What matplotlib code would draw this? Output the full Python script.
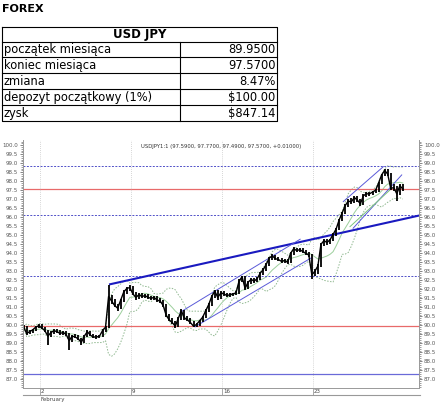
import numpy as np
import pandas as pd
import matplotlib
matplotlib.use('Agg')
import matplotlib.pyplot as plt
from matplotlib.lines import Line2D
from matplotlib.ticker import MultipleLocator, FormatStrFormatter

# --- table ---
table_title = 'USD JPY'
row_labels = ['początek miesiąca', 'koniec miesiąca', 'zmiana',
              'depozyt początkowy (1%)', 'zysk']
row_values = ['89.9500', '97.5700', '8.47%', '$100.00', '$847.14']

# --- chart ---
chart_title = 'USDJPY1:1 (97.5900, 97.7700, 97.4900, 97.5700, +0.01000)'
week_labels = ['2', '9', '16', '23']
week_days = [0, 5, 10, 15]          # trading days counted from Feb 2
month_label = 'February'

# 4-hour bars, first one at -0.9 trading days
closes = [89.90, 89.55, 89.65, 89.75, 89.90, 89.98,
          89.85, 89.70, 89.40, 89.60, 89.70, 89.65,
          89.55, 89.60, 89.50, 89.15, 89.40, 89.35,
          89.25, 89.05, 89.40, 89.65, 89.45, 89.35,
          89.35, 89.40, 89.70, 89.90, 91.60, 91.35,
          91.10, 90.95, 91.40, 91.85, 92.05, 92.10,
          91.75, 91.55, 91.70, 91.60, 91.65, 91.55,
          91.50, 91.55, 91.40, 91.35, 91.10, 90.55,
          90.30, 90.15, 89.95, 90.40, 90.80, 90.40,
          90.30, 90.15, 89.95, 90.05, 90.25, 90.45,
          90.80, 91.15, 91.60, 91.90, 91.55, 91.80,
          91.75, 91.65, 91.70, 91.75, 91.80, 92.45,
          92.70, 92.05, 92.40, 92.55, 92.45, 92.60,
          92.90, 93.10, 93.40, 93.75, 93.85, 93.70,
          93.65, 93.55, 93.60, 93.50, 94.00, 94.25,
          94.15, 94.20, 94.10, 94.00, 93.90, 92.80,
          93.00, 93.30, 94.50, 94.70, 94.60, 94.75,
          95.05, 95.35, 95.85, 96.25, 96.65, 96.90,
          96.85, 97.10, 96.95, 96.75, 97.20, 97.30,
          97.30, 97.40, 97.50, 97.90, 98.35, 98.60,
          98.40, 97.60, 97.65, 97.30, 97.75, 97.57]
highs = [90.02, 89.95, 89.72, 89.82, 89.97, 90.05,
         90.05, 89.92, 89.75, 89.68, 89.78, 89.80,
         89.72, 89.70, 89.68, 89.58, 89.48, 89.50,
         89.45, 89.32, 89.48, 89.72, 89.70, 89.52,
         89.45, 89.48, 89.78, 89.98, 92.25, 91.70,
         91.45, 91.20, 91.48, 91.95, 92.15, 92.25,
         92.18, 91.85, 91.78, 91.80, 91.75, 91.72,
         91.65, 91.65, 91.62, 91.50, 91.42, 91.18,
         90.65, 90.40, 90.25, 90.48, 90.88, 90.85,
         90.50, 90.38, 90.22, 90.12, 90.32, 90.52,
         90.88, 91.22, 91.68, 91.98, 91.95, 91.88,
         91.88, 91.82, 91.78, 91.82, 91.88, 92.55,
         92.75, 92.75, 92.48, 92.62, 92.62, 92.68,
         92.98, 93.18, 93.48, 93.82, 93.95, 93.92,
         93.78, 93.72, 93.68, 93.68, 94.08, 94.35,
         94.32, 94.28, 94.28, 94.18, 94.08, 93.98,
         93.10, 93.38, 94.58, 94.80, 94.78, 94.82,
         95.12, 95.42, 95.92, 96.32, 96.72, 97.00,
         97.05, 97.18, 97.20, 97.02, 97.28, 97.40,
         97.40, 97.48, 97.58, 97.98, 98.42, 98.70,
         98.68, 98.48, 97.82, 97.75, 97.82, 97.85]
lows = [89.82, 89.48, 89.50, 89.60, 89.70, 89.85,
        89.80, 89.62, 88.90, 89.35, 89.52, 89.58,
        89.48, 89.48, 89.42, 88.62, 89.08, 89.28,
        89.18, 88.88, 89.00, 89.35, 89.40, 89.28,
        89.25, 89.28, 89.35, 89.65, 89.85, 91.20,
        91.00, 90.82, 90.88, 91.32, 91.75, 91.90,
        91.68, 91.40, 91.48, 91.52, 91.50, 91.45,
        91.40, 91.42, 91.32, 91.22, 91.00, 90.45,
        90.22, 90.05, 89.85, 89.90, 90.32, 90.32,
        90.22, 90.08, 89.88, 89.88, 89.98, 90.18,
        90.38, 90.72, 91.08, 91.52, 91.40, 91.48,
        91.65, 91.58, 91.58, 91.62, 91.68, 91.72,
        92.38, 91.98, 92.00, 92.32, 92.35, 92.38,
        92.52, 92.82, 93.02, 93.32, 93.65, 93.60,
        93.58, 93.48, 93.48, 93.42, 93.45, 93.92,
        94.08, 94.08, 94.02, 93.92, 93.82, 92.55,
        92.72, 92.85, 93.22, 94.42, 94.48, 94.50,
        94.68, 94.98, 95.28, 95.78, 96.18, 96.58,
        96.72, 96.78, 96.85, 96.65, 96.68, 97.12,
        97.20, 97.22, 97.32, 97.42, 97.82, 98.28,
        98.30, 97.50, 97.45, 96.88, 97.22, 97.48]

red_levels = [97.57, 89.95]
dotted_levels = [98.85, 96.10, 92.75]
solid_level = 87.30

trend_t = [3.85, 20.8]
trend_p = [92.28, 96.09]
chan1_up_t, chan1_up_p = [7.69, 14.29], [90.72, 94.78]
chan1_lo_t, chan1_lo_p = [8.52, 14.89], [89.92, 93.74]
chan2_up_t, chan2_up_p = [16.66, 18.86], [96.87, 98.81]
chan2_mid_t, chan2_mid_p = [17.03, 19.23], [95.48, 97.52]
chan2_lo_t, chan2_lo_p = [17.20, 19.87], [95.39, 98.35]

W, H = 446, 404
fig = plt.figure(figsize=(W / 100, H / 100), dpi=100)
fig.patch.set_facecolor('white')

# overlay in pixel coords for header + table
ov = fig.add_axes([0, 0, 1, 1])
ov.set_xlim(0, W)
ov.set_ylim(H, 0)
ov.axis('off')

ov.text(2, 8.5, 'FOREX', fontsize=8, fontweight='bold', va='center', ha='left')

tx0, tx1, tmid = 2, 277, 180
ty = [26.5, 41.5] + [41.5 + 15.9 * (k + 1) for k in range(len(row_labels))]
ov.plot([tx0, tx1, tx1, tx0, tx0], [ty[0], ty[0], ty[-1], ty[-1], ty[0]], color='black', lw=0.8)
for y in ty[1:-1]:
    ov.plot([tx0, tx1], [y, y], color='black', lw=0.8)
ov.plot([tmid, tmid], [ty[1], ty[-1]], color='black', lw=0.8)
ov.text((tx0 + tx1) / 2, (ty[0] + ty[1]) / 2 + 0.5, table_title, fontsize=8.5,
        fontweight='bold', ha='center', va='center')
for k, (lab, val) in enumerate(zip(row_labels, row_values)):
    yc = (ty[k + 1] + ty[k + 2]) / 2 + 0.5
    ov.text(tx0 + 1.5, yc, lab, fontsize=8.3, ha='left', va='center')
    ov.text(tx1 - 1.5, yc, val, fontsize=8.3, ha='right', va='center')

# chart axes
ax = fig.add_axes([23 / W, 1 - 388 / H, (419 - 23) / W, (388 - 140) / H])
t = -0.9 + np.arange(len(closes)) / 6.0

# bollinger bands
s = pd.Series(closes)
mid = s.rolling(8, min_periods=1).mean()
sd = s.rolling(8, min_periods=1).std(ddof=0)
ax.plot(t, mid + 2 * sd, color='#8fb88f', lw=0.7, ls=(0, (1.5, 1.5)))
ax.plot(t, mid - 2 * sd, color='#8fb88f', lw=0.7, ls=(0, (1.5, 1.5)))
ax.plot(t, mid, color='#9ccf9c', lw=0.7)

for lv in red_levels:
    ax.axhline(lv, color='#e86a6a', lw=0.9)
for lv in dotted_levels:
    ax.axhline(lv, color='#5050c8', lw=0.7, ls=(0, (2, 1.5)))
ax.axhline(solid_level, color='#6a6ad8', lw=0.9)

for wd in week_days:
    ax.axvline(wd, color='#c8c8c8', lw=0.6, ls=(0, (1, 1.5)))

ax.plot(trend_t, trend_p, color='#1a1ac0', lw=1.5)
for tt, pp in [(chan1_up_t, chan1_up_p), (chan1_lo_t, chan1_lo_p),
               (chan2_up_t, chan2_up_p), (chan2_lo_t, chan2_lo_p)]:
    ax.plot(tt, pp, color='#5a5ad8', lw=0.7)
ax.plot(chan2_mid_t, chan2_mid_p, color='#7cc47c', lw=0.7)

opens = [closes[0]] + closes[:-1]
lo = np.minimum(np.minimum(lows, opens), closes)
hi = np.maximum(np.maximum(highs, opens), closes)
ax.vlines(t, lo, hi, color='black', lw=1.3)
ax.plot(t, closes, color='black', lw=1.0)

ax.set_xlim(-0.934, 20.82)
ax.set_ylim(86.52, 100.29)

ax.text(0.5, 0.985, chart_title, transform=ax.transAxes, fontsize=3.8,
        color='#333333', ha='center', va='top')

ax.yaxis.set_major_locator(MultipleLocator(0.5))
ax.yaxis.set_minor_locator(MultipleLocator(0.1))
ax.yaxis.set_major_formatter(FormatStrFormatter('%.1f'))
ax.tick_params(axis='y', which='both', left=True, right=True,
               labelleft=True, labelright=True, labelsize=4, colors='#555555',
               direction='out', pad=1)
ax.tick_params(axis='y', which='major', length=2.5, width=0.5)
ax.tick_params(axis='y', which='minor', length=1.2, width=0.4)

ax.set_xticks(week_days)
ax.set_xticklabels([])
ax.tick_params(axis='x', length=5, width=0.5, colors='#888888', direction='out')
for wd, lab in zip(week_days, week_labels):
    ax.text(wd + 0.05, -0.016, lab, transform=ax.get_xaxis_transform(),
            fontsize=4, color='#444444', ha='left', va='center')
ax.text(week_days[0] + 0.05, -0.045, month_label, transform=ax.get_xaxis_transform(),
        fontsize=4, color='#444444', ha='left', va='center')
ax.add_line(Line2D([0, 1.002], [-0.028, -0.028], transform=ax.transAxes,
                   color='#999999', lw=0.8, clip_on=False))

ax.spines['top'].set_visible(False)
for sp in ['left', 'right', 'bottom']:
    ax.spines[sp].set_color('#999999')
    ax.spines[sp].set_linewidth(0.7)

fig.savefig('out.png', dpi=100)
